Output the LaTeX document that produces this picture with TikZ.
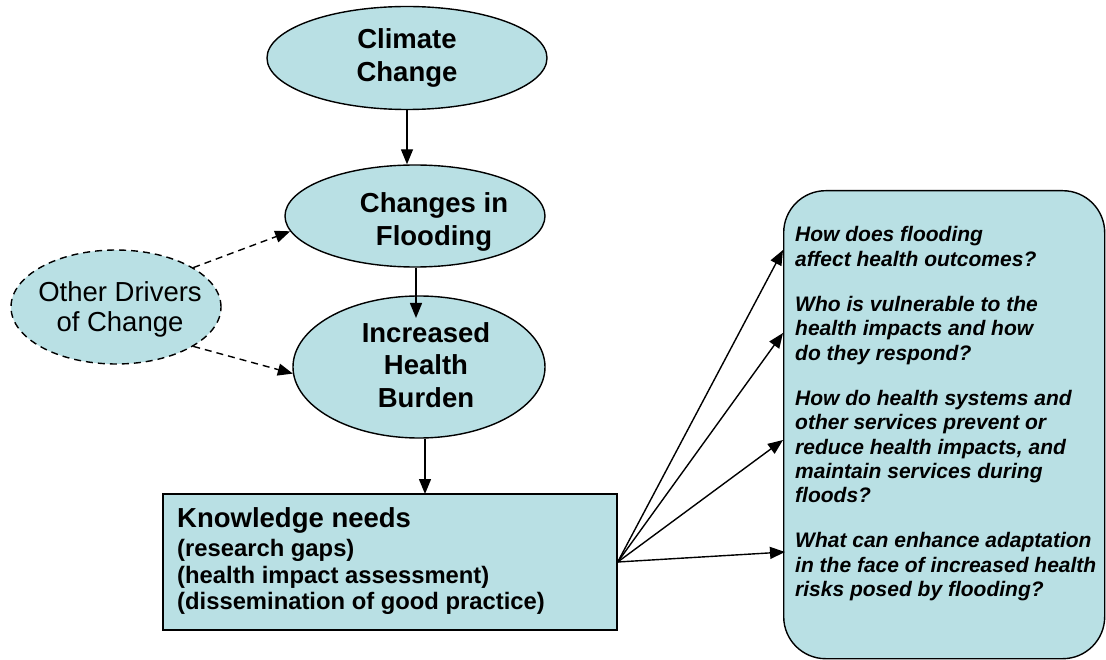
\documentclass[tikz,border=0pt]{standalone}
\usepackage{fontspec}
\setmainfont{Liberation Sans}
\usetikzlibrary{shapes.geometric,arrows.meta,calc}
\definecolor{boxfill}{RGB}{185,224,228}
\begin{document}
\begin{tikzpicture}[x=1pt,y=-1pt,
  oval/.style={ellipse, draw, fill=boxfill, line width=1.4pt, inner sep=0pt},
  bigtxt/.style={font=\fontsize{27.5}{32.5}\selectfont\bfseries, align=center, inner sep=0pt},
  arr/.style={-{Triangle[length=15pt,width=12pt]}, line width=1.4pt},
  darr/.style={arr, dash pattern=on 7pt off 5pt},
]
\useasboundingbox (0,0) rectangle (1106,660);

% ellipses
\node[oval, minimum width=280, minimum height=103, bigtxt] (cc) at (407,58) {Climate\\Change};
\node[oval, minimum width=260, minimum height=102] (cf) at (415,216) {};
\node[bigtxt] (cft) at (434,222) {Changes in\\Flooding};
\node[oval, minimum width=252, minimum height=142] (ib) at (419,367) {};
\node[bigtxt] (ibt) at (426,365) {Increased\\Health\\Burden};
\node[oval, dash pattern=on 7pt off 5pt, minimum width=210, minimum height=114] (od) at (116,307) {};
\node[font=\fontsize{27.5}{30}\selectfont, align=center, inner sep=0pt] (odt) at (120,309) {Other Drivers\\of Change};

% knowledge box
\node[draw, fill=boxfill, line width=1.4pt, minimum width=454, minimum height=136, inner sep=0pt] (kn) at (390,562) {};
\node[anchor=north west, align=left, inner sep=0pt, font=\fontsize{23.8}{26.5}\selectfont\bfseries] (knt) at (177,507.5)
  {{\fontsize{27.5}{29}\selectfont Knowledge needs}\\[2.5pt]
   (research gaps)\\
   (health impact assessment)\\
   (dissemination of good practice)};

% questions box
\node[draw, fill=boxfill, line width=1.4pt, rounded corners=42pt, minimum width=321, minimum height=468,
      inner sep=0pt, anchor=north west] (q) at (783,190) {};
\node[anchor=north west, align=left, inner sep=0pt, font=\fontsize{21}{24.3}\selectfont\bfseries\itshape] (qt) at (795,226.5)
  {How does flooding\\
   affect health outcomes?\\[21pt]
   Who is vulnerable to the\\
   health impacts and how\\
   do they respond?\\[21pt]
   How do health systems and\\
   other services prevent or\\
   reduce health impacts, and\\
   maintain services during\\
   floods?\\[21pt]
   What can enhance adaptation\\
   in the face of increased health\\
   risks posed by flooding?};

% coordinates
\coordinate (ibin) at (416,318);
\coordinate (knin) at (425,494);
\coordinate (q1) at (q.west |- 0,250);
\coordinate (q2) at (q.west |- 0,333);
\coordinate (q3) at (q.west |- 0,440);
\coordinate (q4) at ($(q.west |- 0,552)+(2,0)$);

% connectors
\draw[arr] (cc.south) -- (cc.south |- cf.north);
\draw[arr] (cf.south -| ibin) -- (ibin);
\draw[arr] (ib.south -| knin) -- (knin);
\draw[darr] (od.27) -- (cf.187);
\draw[darr] (od.-27) -- (ib.183);
\draw[arr] (kn.east) -- (q1);
\draw[arr] (kn.east) -- (q2);
\draw[arr] (kn.east) -- (q3);
\draw[arr] (kn.east) -- (q4);
\end{tikzpicture}
\end{document}
